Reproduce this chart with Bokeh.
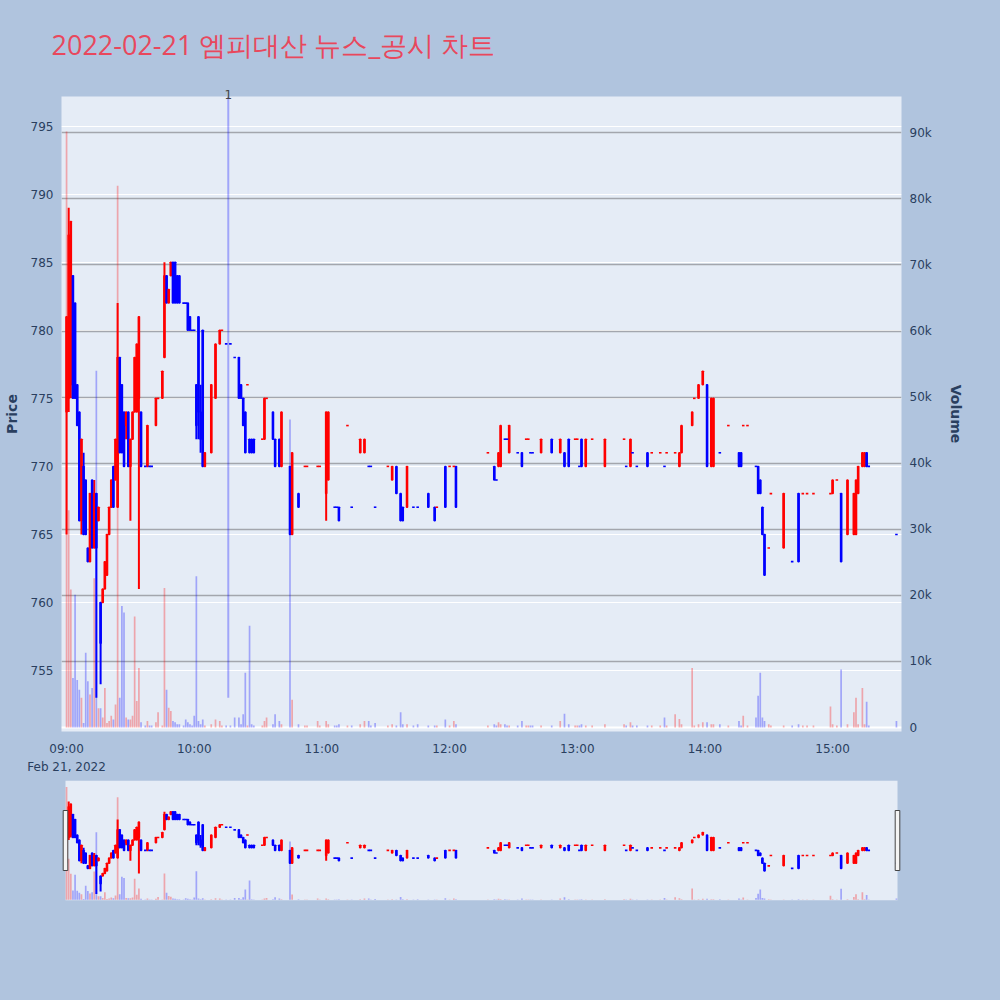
import numpy as np
import pandas as pd
from bokeh.plotting import figure
from bokeh.layouts import column
from bokeh.models import (ColumnDataSource, Range1d, LinearAxis, FixedTicker, Title,
                          SingleIntervalTicker, DatetimeTickFormatter, Grid, Span)
from bokeh.embed import file_html
from bokeh.resources import INLINE

# ---------------- data ----------------
TRADE_DATE = "2022-02-21"
TITLE = "2022-02-21 엠피대산 뉴스_공시 차트"

times = ["09:00", "09:01", "09:02", "09:03", "09:04", "09:05", "09:06", "09:07", "09:08", "09:09",
         "09:10", "09:11", "09:12", "09:13", "09:14", "09:15", "09:16", "09:17", "09:18", "09:19",
         "09:20", "09:21", "09:22", "09:23", "09:24", "09:25", "09:26", "09:27", "09:28", "09:29",
         "09:30", "09:31", "09:32", "09:33", "09:34", "09:35", "09:37", "09:38", "09:39", "09:40",
         "09:42", "09:43", "09:45", "09:46", "09:47", "09:48", "09:49", "09:50", "09:51", "09:52",
         "09:53", "09:55", "09:56", "09:57", "09:58", "09:59", "10:00", "10:01", "10:02", "10:03",
         "10:04", "10:05", "10:08", "10:10", "10:12", "10:13", "10:15", "10:17", "10:19", "10:21",
         "10:22", "10:23", "10:24", "10:25", "10:26", "10:27", "10:28", "10:32", "10:33", "10:34",
         "10:37", "10:38", "10:40", "10:41", "10:45", "10:46", "10:49", "10:52", "10:53", "10:58",
         "10:59", "11:02", "11:03", "11:06", "11:07", "11:08", "11:12", "11:14", "11:18", "11:20",
         "11:22", "11:23", "11:25", "11:31", "11:33", "11:35", "11:37", "11:38", "11:40", "11:43",
         "11:45", "11:50", "11:53", "11:54", "11:58", "12:00", "12:02", "12:03", "12:18", "12:21",
         "12:22", "12:23", "12:24", "12:26", "12:27", "12:28", "12:32", "12:34", "12:36", "12:37",
         "12:38", "12:39", "12:43", "12:48", "12:52", "12:54", "12:56", "12:59", "13:00", "13:01",
         "13:02", "13:04", "13:07", "13:13", "13:22", "13:23", "13:25", "13:26", "13:28", "13:33",
         "13:35", "13:39", "13:41", "13:42", "13:46", "13:48", "13:49", "13:54", "13:55", "13:57",
         "13:59", "14:01", "14:03", "14:04", "14:07", "14:11", "14:16", "14:17", "14:18", "14:20",
         "14:24", "14:25", "14:26", "14:27", "14:28", "14:30", "14:31", "14:37", "14:41", "14:44",
         "14:46", "14:48", "14:51", "14:59", "15:00", "15:02", "15:04", "15:07", "15:10", "15:11",
         "15:12", "15:14", "15:15", "15:16", "15:17", "15:30"]

opens = [774, 775, 776, 784, 782, 776, 774, 766, 770, 769,
         764, 763, 769, 764, 768, 766, 760, 760, 761, 762,
         765, 767, 770, 769, 767, 778, 776, 774, 773, 774,
         770, 772, 774, 774, 775, 774, 770, 770, 770, 770,
         773, 775, 775, 778, 784, 782, 784, 785, 785, 784,
         784, 782, 782, 782, 781, 780, 780, 776, 781, 774,
         780, 770, 771, 775, 779, 780, 779, 779, 778, 778,
         776, 775, 774, 776, 772, 772, 772, 772, 772, 775,
         774, 772, 772, 770, 770, 765, 768, 770, 770, 770,
         770, 768, 769, 767, 767, 767, 773, 767, 771, 771,
         770, 770, 767, 770, 769, 770, 768, 767, 767, 767,
         767, 768, 767, 767, 770, 770, 770, 770, 771, 770,
         769, 770, 770, 772, 772, 771, 771, 771, 772, 772,
         771, 771, 771, 772, 771, 771, 772, 772, 772, 770,
         772, 770, 772, 770, 772, 770, 770, 771, 770, 771,
         771, 771, 770, 771, 771, 770, 771, 773, 775, 775,
         776, 776, 770, 770, 771, 773, 771, 771, 773, 773,
         770, 770, 769, 767, 765, 764, 768, 764, 763, 768,
         768, 768, 768, 768, 768, 769, 768, 765, 765, 765,
         768, 770, 770, 771, 770, 765]

highs = [781, 789, 788, 784, 782, 776, 774, 772, 771, 769,
         764, 768, 769, 769, 768, 767, 760, 761, 763, 765,
         767, 769, 770, 772, 782, 778, 776, 774, 774, 774,
         772, 774, 778, 779, 781, 774, 770, 773, 770, 770,
         775, 775, 777, 785, 784, 783, 785, 785, 785, 784,
         784, 782, 782, 782, 781, 780, 780, 776, 781, 776,
         780, 771, 776, 779, 780, 780, 779, 779, 778, 778,
         776, 775, 774, 776, 772, 772, 772, 772, 775, 775,
         774, 772, 772, 774, 770, 771, 768, 770, 770, 770,
         770, 774, 774, 767, 767, 767, 773, 767, 772, 772,
         770, 770, 767, 770, 770, 770, 768, 767, 770, 767,
         767, 768, 767, 767, 770, 770, 770, 770, 771, 770,
         769, 771, 773, 772, 772, 773, 771, 771, 772, 772,
         771, 771, 772, 772, 772, 771, 772, 772, 772, 770,
         772, 772, 772, 772, 772, 770, 772, 771, 770, 771,
         771, 771, 770, 771, 771, 771, 773, 774, 775, 776,
         777, 776, 775, 775, 771, 773, 771, 771, 773, 773,
         770, 770, 769, 767, 765, 764, 768, 768, 763, 768,
         768, 768, 768, 768, 769, 769, 768, 769, 768, 769,
         770, 771, 771, 771, 770, 765]

lows = [765, 774, 775, 775, 775, 773, 766, 765, 765, 765,
        763, 763, 764, 764, 753, 766, 754, 760, 761, 762,
        765, 767, 767, 769, 767, 771, 771, 770, 772, 770,
        766, 772, 774, 774, 761, 770, 770, 770, 770, 770,
        773, 775, 775, 778, 782, 782, 784, 782, 782, 782,
        782, 782, 782, 780, 780, 780, 780, 772, 772, 771,
        770, 770, 771, 775, 779, 780, 779, 779, 778, 775,
        775, 773, 771, 776, 771, 771, 771, 772, 772, 775,
        772, 770, 770, 770, 765, 765, 767, 770, 770, 770,
        770, 766, 769, 767, 767, 766, 773, 767, 771, 771,
        770, 770, 767, 770, 769, 768, 766, 766, 767, 767,
        767, 767, 766, 767, 767, 770, 770, 767, 771, 769,
        769, 770, 770, 772, 772, 771, 771, 770, 772, 772,
        771, 771, 771, 771, 771, 770, 770, 772, 772, 770,
        770, 770, 772, 770, 772, 770, 770, 771, 770, 770,
        771, 771, 770, 771, 771, 770, 771, 773, 775, 775,
        776, 770, 770, 770, 771, 773, 770, 770, 773, 773,
        770, 768, 768, 765, 762, 764, 768, 764, 763, 763,
        768, 768, 768, 768, 768, 769, 763, 765, 765, 765,
        768, 770, 770, 770, 770, 765]

closes = [781, 787, 788, 775, 775, 773, 766, 772, 765, 765,
          763, 768, 764, 768, 764, 767, 757, 761, 763, 765,
          767, 769, 767, 772, 778, 771, 771, 770, 774, 770,
          772, 774, 778, 779, 781, 770, 770, 773, 770, 770,
          775, 775, 777, 784, 782, 783, 785, 782, 782, 782,
          782, 782, 782, 780, 780, 780, 780, 773, 774, 772,
          770, 771, 776, 779, 780, 780, 779, 779, 778, 775,
          775, 773, 771, 776, 771, 771, 771, 772, 775, 775,
          772, 770, 770, 774, 765, 771, 767, 770, 770, 770,
          770, 774, 774, 767, 767, 766, 773, 767, 772, 772,
          770, 770, 767, 770, 770, 768, 766, 766, 770, 767,
          767, 767, 766, 767, 767, 770, 770, 767, 771, 769,
          769, 771, 773, 772, 772, 773, 771, 770, 772, 772,
          771, 771, 772, 771, 772, 770, 770, 772, 772, 770,
          770, 772, 772, 772, 772, 770, 772, 771, 770, 770,
          771, 771, 770, 771, 771, 771, 773, 774, 775, 776,
          777, 770, 775, 775, 771, 773, 770, 770, 773, 773,
          770, 768, 768, 765, 762, 764, 768, 768, 763, 763,
          768, 768, 768, 768, 769, 769, 763, 769, 768, 769,
          770, 771, 771, 770, 770, 765]

volumes = [90200, 32900, 20900, 7500, 20100, 7200, 5700, 4500, 700, 11300,
           7000, 5000, 6000, 22600, 54000, 2900, 2900, 1500, 6000, 700,
           1000, 1800, 1200, 3500, 82000, 4500, 18400, 17400, 1500, 1200,
           1200, 1800, 16800, 4000, 9000, 800, 300, 1000, 300, 300,
           800, 2300, 300, 21100, 5700, 3000, 2500, 1000, 800, 500,
           500, 300, 1200, 800, 500, 300, 1800, 22900, 1000, 500,
           1200, 300, 500, 1200, 1000, 300, 300, 300, 1500, 1500,
           500, 2000, 8300, 300, 15400, 500, 300, 300, 1000, 1500,
           500, 2000, 1000, 500, 46600, 4200, 500, 300, 300, 1000,
           300, 1000, 500, 300, 300, 500, 300, 300, 500, 1000,
           1000, 300, 700, 300, 500, 300, 2300, 500, 500, 300,
           500, 300, 300, 300, 1200, 300, 1000, 500, 300, 500,
           300, 800, 500, 500, 300, 300, 300, 1000, 300, 300,
           300, 300, 300, 300, 1000, 2100, 500, 300, 300, 300,
           500, 300, 300, 500, 500, 300, 800, 300, 300, 300,
           300, 300, 1500, 300, 2000, 1300, 500, 9000, 300, 500,
           800, 800, 500, 500, 500, 300, 1000, 300, 1800, 300,
           1500, 4800, 8300, 1500, 1000, 500, 300, 300, 300, 500,
           300, 300, 300, 3200, 500, 300, 8800, 500, 2300, 4500,
           500, 6000, 500, 3900, 300, 1000]

hour_ticks = ["09:00", "10:00", "11:00", "12:00", "13:00", "14:00", "15:00"]
volume_ticks = [0, 10000, 20000, 30000, 40000, 50000, 60000, 70000, 80000, 90000]
volume_tick_labels = ["0", "10k", "20k", "30k", "40k", "50k", "60k", "70k", "80k", "90k"]
news_times = ["10:16"]
news_labels = ["1"]

assert len(times) == len(opens) == len(highs) == len(lows) == len(closes) == len(volumes)

# ---------------- styles ----------------
UP = "#ff0000"
DOWN = "#0000ff"
PAGE_BG = "#b0c4de"
PLOT_BG = "#e5ecf6"
TEXT = "#2a3f5f"
TITLE_COLOR = "#e8485d"
VOL_GRID = "#a3a6ad"
FONT = "DejaVu Sans"
MIN_MS = 60000.0


def to_ms(hhmm_list):
    ts = pd.to_datetime([f"{TRADE_DATE} {s}" for s in hhmm_list])
    return ts.values.astype("datetime64[ms]").astype("int64").astype(float)


x = to_ms(times)
o = np.array(opens, dtype=float)
h = np.array(highs, dtype=float)
l = np.array(lows, dtype=float)
c = np.array(closes, dtype=float)
v = np.array(volumes, dtype=float)

colors = []
prev_c, prev_col = None, UP
for oi, ci in zip(o, c):
    if ci > oi:
        col = UP
    elif ci < oi:
        col = DOWN
    elif prev_c is None or ci > prev_c:
        col = UP
    elif ci < prev_c:
        col = DOWN
    else:
        col = prev_col
    colors.append(col)
    prev_c, prev_col = ci, col
colors = np.array(colors)

src = ColumnDataSource(dict(x=x, low=l, high=h, volume=v, color=colors))
body = o != c
src_body = ColumnDataSource(dict(x=x[body], top=np.maximum(o, c)[body],
                                 bottom=np.minimum(o, c)[body], color=colors[body]))
doji = ~body
src_doji = ColumnDataSource(dict(x0=x[doji] - 0.6 * MIN_MS, x1=x[doji] + 0.6 * MIN_MS,
                                 y=c[doji], color=colors[doji]))

# ranges
FRAME_W, INNER_W = 840, 832
x_lo = x.min() - 0.5 * MIN_MS
x_hi = x.max() + 0.5 * MIN_MS
pad = (FRAME_W - INNER_W) / 2 * (x_hi - x_lo) / INNER_W
xr = Range1d(x_lo - pad, x_hi + pad)
ms_per_px = (xr.end - xr.start) / FRAME_W
yr = Range1d(750.52, 797.18)
vr = Range1d(-600, 95500)


def draw_series(fig):
    fig.segment(x0="x", y0="low", x1="x", y1="high", source=src,
                line_color="color", line_width=2)
    fig.vbar(x="x", width=0.5 * MIN_MS, top="top", bottom="bottom", source=src_body,
             fill_color="color", line_color="color", line_width=1.5)
    fig.segment(x0="x0", y0="y", x1="x1", y1="y", source=src_doji,
                line_color="color", line_width=1.6)
    fig.vbar(x="x", width=0.8 * MIN_MS, top="volume", bottom=0, source=src,
             y_range_name="vol", fill_color="color", fill_alpha=0.3, line_color=None)


# ---------------- main chart ----------------
p = figure(width=1000, height=776, x_axis_type="datetime", x_range=xr, y_range=yr,
           output_backend="svg", toolbar_location=None,
           min_border_left=61, min_border_right=99, min_border_top=96, min_border_bottom=45)
p.title = Title(text=TITLE, align="left", offset=-10, standoff=47,
                text_font="Open Sans", text_font_size="27px", text_font_style="normal",
                text_color=TITLE_COLOR)
p.extra_y_ranges = {"vol": vr}
p.background_fill_color = PLOT_BG
p.border_fill_color = PAGE_BG
p.outline_line_color = None

# grids
p.xgrid.visible = False
p.ygrid.ticker = SingleIntervalTicker(interval=5, num_minor_ticks=0)
p.ygrid.grid_line_color = "white"
p.ygrid.grid_line_width = 1.2
p.add_layout(Grid(dimension=1, ticker=FixedTicker(ticks=volume_ticks[1:]), y_range_name="vol",
                  grid_line_color=VOL_GRID, grid_line_width=1.6))
p.add_layout(Span(location=0, dimension="width", y_range_name="vol", line_color="white",
                  line_width=2, level="underlay"))

# axes
def style_axis(ax):
    ax.axis_line_color = None
    ax.major_tick_line_color = None
    ax.minor_tick_line_color = None
    ax.major_label_text_font = FONT
    ax.major_label_text_font_size = "12px"
    ax.major_label_text_color = TEXT
    ax.axis_label_text_font = FONT
    ax.axis_label_text_font_size = "14px"
    ax.axis_label_text_font_style = "bold"
    ax.axis_label_text_color = TEXT

yax = p.yaxis[0]
yax.ticker = SingleIntervalTicker(interval=5, num_minor_ticks=0)
yax.axis_label = "Price"
style_axis(yax)
yax.major_label_standoff = 2
yax.axis_label_standoff = 8

vax = LinearAxis(y_range_name="vol", ticker=FixedTicker(ticks=volume_ticks),
                 major_label_overrides={t: s for t, s in zip(volume_ticks, volume_tick_labels)},
                 axis_label="Volume")
style_axis(vax)
vax.major_label_standoff = 2
vax.axis_label_standoff = 13
p.add_layout(vax, "right")

xax = p.xaxis[0]
xax.ticker = FixedTicker(ticks=list(to_ms(hour_ticks)))
fmt = "%H:%M"
ctx_fmt = "%b %d, %Y"
xax.formatter = DatetimeTickFormatter(
    minutes=fmt, hourmin=fmt, hours=fmt, days=fmt, minsec=fmt, seconds=fmt,
    context=DatetimeTickFormatter(minutes=ctx_fmt, hourmin=ctx_fmt, hours=ctx_fmt,
                                  days=ctx_fmt, minsec=ctx_fmt, seconds=ctx_fmt),
    context_which="start", context_location="below")
style_axis(xax)
xax.major_label_standoff = 4
xax.major_label_text_line_height = 1.3

# news marker labels as a top axis
news_x = to_ms(news_times)
nax = LinearAxis(ticker=FixedTicker(ticks=list(news_x)),
                 major_label_overrides={float(k): s for k, s in zip(news_x, news_labels)})
style_axis(nax)
nax.major_label_text_color = "#444444"
nax.major_label_standoff = -8
p.add_layout(nax, "above")

draw_series(p)

# news markers
p.segment(x0=news_x, y0=[l.min()] * len(news_x), x1=news_x, y1=[yr.end] * len(news_x),
          line_color=DOWN, line_alpha=0.3, line_width=2)

# ---------------- range slider ----------------
s = figure(width=1000, height=224, x_axis_type="datetime", x_range=xr, y_range=yr,
           output_backend="svg", toolbar_location=None, title=None,
           x_axis_location=None, y_axis_location=None,
           min_border_left=61, min_border_right=99, min_border_top=4, min_border_bottom=100)
s.extra_y_ranges = {"vol": vr}
s.background_fill_color = PAGE_BG
s.border_fill_color = PAGE_BG
s.outline_line_color = None
s.grid.visible = False

s.quad(left=[x_lo], right=[x_hi], bottom=[yr.start], top=[yr.end],
       fill_color=PLOT_BG, line_color=None)
draw_series(s)
hw = 2.3 * ms_per_px
span_y = yr.end - yr.start
s.quad(left=[x_lo - hw, x_hi - hw], right=[x_lo + hw, x_hi + hw],
       bottom=[yr.start + 0.25 * span_y] * 2, top=[yr.start + 0.75 * span_y] * 2,
       fill_color="#f4f4f4", line_color="#444444", line_width=1)

layout = column(p, s)
html = file_html(layout, INLINE, title="chart")
html = html.replace("</head>", "<style>html,body{background-color:%s;}</style></head>" % PAGE_BG, 1)
open("out.html", "w").write(html)
